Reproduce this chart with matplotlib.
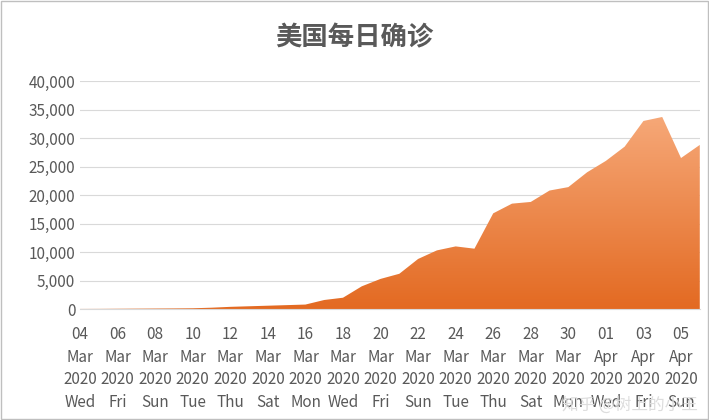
import numpy as np
import matplotlib.pyplot as plt
from matplotlib.colors import LinearSegmentedColormap

plt.rcParams['font.family'] = ['Noto Sans CJK SC', 'DejaVu Sans']

# daily confirmed cases, 2020-03-04 .. 2020-04-06
dates = np.arange('2020-03-04', '2020-04-07', dtype='datetime64[D]')
cases = [30, 40, 60, 80, 100, 120, 150, 250, 400, 500, 600, 700, 800,
         1600, 2000, 4000, 5300, 6200, 8800, 10300, 11000, 10600, 16800,
         18500, 18800, 20800, 21400, 24000, 26000, 28500, 33000, 33700,
         26500, 28800]
weekdays = ['Mon', 'Tue', 'Wed', 'Thu', 'Fri', 'Sat', 'Sun']
months = {3: 'Mar', 4: 'Apr'}

x = np.arange(len(cases))
y = np.array(cases)

fig = plt.figure(figsize=(7.09, 4.2), dpi=100)
ax = fig.add_axes([0.113, 0.264, 0.874, 0.543])

poly = ax.fill_between(x, 0, y, color='none', lw=0)
cmap = LinearSegmentedColormap.from_list('o', ['#e36a22', '#f6a878'])
grad = np.linspace(0, 1, 256).reshape(-1, 1)
im = ax.imshow(grad, cmap=cmap, aspect='auto', origin='lower',
               extent=[0, len(x) - 1, 0, max(y)], zorder=2)
im.set_clip_path(poly.get_paths()[0], transform=ax.transData)

ax.set_xlim(0, len(x) - 1)
ax.set_ylim(0, 40000)
ax.set_yticks(np.arange(0, 40001, 5000))
ax.yaxis.set_major_formatter(plt.FuncFormatter(lambda v, p: f'{int(v):,}'))
ax.grid(axis='y', color='#d9d9d9', lw=0.8, zorder=0)
ax.set_axisbelow(True)

ticks = x[::2]
labels = []
for i in ticks:
    d = dates[i].astype(object)
    labels.append(f'{d.day:02d}\n{months[d.month]}\n2020\n{weekdays[d.weekday()]}')
ax.set_xticks(ticks)
ax.set_xticklabels(labels, fontsize=11, color='#595959', linespacing=1.45)
ax.tick_params(axis='y', labelsize=11, colors='#595959', length=0)
ax.tick_params(axis='x', length=0, pad=12)
for s in ['top', 'right', 'left']:
    ax.spines[s].set_visible(False)
ax.spines['bottom'].set_color('#d9d9d9')

fig.text(0.5, 0.91, '美国每日确诊', ha='center', va='center', fontsize=19,
         color='#595959', fontweight='bold')
fig.text(0.985, 0.035, '知乎 @树上的小王', ha='right', va='center', fontsize=12, color='#dddddd')
fig.patches.append(plt.Rectangle((0.002, 0.002), 0.996, 0.996, transform=fig.transFigure,
                                 fill=False, ec='#bfbfbf', lw=1))
fig.savefig('out.png', dpi=100)
